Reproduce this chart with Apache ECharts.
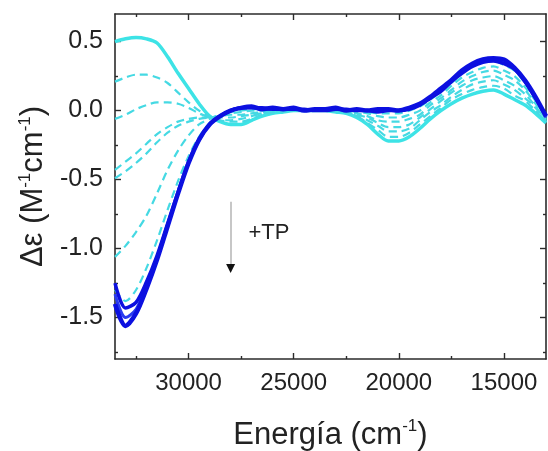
<!DOCTYPE html>
<html>
<head>
<meta charset="utf-8">
<script src="https://cdn.jsdelivr.net/npm/echarts@6/dist/echarts.min.js"></script>
<style>
html,body{margin:0;padding:0;background:#fff;}
#chart{width:548px;height:451px;}
</style>
</head>
<body>
<div id="chart"></div>
<script>
// Energy grid (cm^-1)
var energy = [33500,33000,32500,32000,31500,31000,30500,30000,29500,29000,28500,28000,27500,27000,26500,26000,25500,25000,24500,24000,23500,23000,22500,22000,21500,21000,20500,20000,19500,19000,18500,18000,17500,17000,16500,16000,15500,15000,14500,14000,13500,13000];

// Initial spectrum (cyan solid)
var spec0 = [0.50,0.52,0.53,0.52,0.49,0.39,0.27,0.16,0.05,-0.04,-0.08,-0.10,-0.10,-0.07,-0.04,-0.02,-0.01,0.00,0.00,0.00,0.00,-0.01,-0.02,-0.05,-0.10,-0.17,-0.22,-0.22,-0.19,-0.13,-0.06,0.00,0.05,0.09,0.12,0.14,0.15,0.12,0.08,0.04,-0.02,-0.09];
// Intermediate spectra (cyan dashed)
var dash1 = [0.21,0.24,0.26,0.26,0.24,0.20,0.13,0.06,0.00,-0.04,-0.07,-0.08,-0.08,-0.06,-0.03,-0.015,-0.01,0,0,0,0,-0.01,-0.02,-0.04,-0.09,-0.14,-0.19,-0.19,-0.16,-0.10,-0.04,0.02,0.08,0.12,0.15,0.17,0.18,0.16,0.11,0.07,0.00,-0.08];
var dash2 = [-0.06,-0.03,0.01,0.04,0.06,0.06,0.05,0.02,-0.02,-0.05,-0.07,-0.07,-0.06,-0.04,-0.02,-0.01,0,0,0,0,0,-0.01,-0.01,-0.04,-0.07,-0.11,-0.15,-0.15,-0.13,-0.07,-0.01,0.04,0.10,0.15,0.19,0.21,0.22,0.19,0.15,0.09,0.02,-0.08];
var dash3 = [-0.43,-0.37,-0.31,-0.24,-0.17,-0.12,-0.08,-0.06,-0.05,-0.05,-0.05,-0.05,-0.04,-0.03,-0.02,-0.01,0,0,0,0,0,0,-0.01,-0.03,-0.05,-0.09,-0.12,-0.12,-0.10,-0.05,0.01,0.07,0.13,0.18,0.22,0.24,0.25,0.22,0.18,0.12,0.03,-0.07];
var dash4 = [-0.49,-0.44,-0.38,-0.31,-0.23,-0.16,-0.11,-0.08,-0.06,-0.05,-0.04,-0.03,-0.03,-0.02,-0.01,0,0,0,0,0,0,0,-0.01,-0.02,-0.04,-0.07,-0.08,-0.08,-0.06,-0.03,0.04,0.09,0.15,0.21,0.25,0.28,0.29,0.26,0.22,0.15,0.05,-0.07];
var dash5 = [-1.06,-0.98,-0.88,-0.76,-0.60,-0.43,-0.29,-0.18,-0.10,-0.06,-0.03,-0.02,-0.01,0,0,0,0,0.01,0,0,0,0,0,-0.01,-0.02,-0.04,-0.05,-0.05,-0.03,0.00,0.06,0.11,0.18,0.24,0.28,0.31,0.32,0.29,0.25,0.17,0.07,-0.06];
var dash6 = [-1.30,-1.38,-1.30,-1.14,-0.94,-0.72,-0.51,-0.33,-0.19,-0.09,-0.04,-0.01,0.00,0.01,0.01,0.01,0.01,0.01,0,0,0,0.01,0,0,-0.01,-0.02,-0.02,-0.02,0.00,0.03,0.08,0.14,0.20,0.27,0.32,0.35,0.36,0.33,0.29,0.20,0.09,-0.05];
// Final spectra (blue solid)
var blueA = [-1.40,-1.56,-1.47,-1.29,-1.08,-0.84,-0.60,-0.38,-0.21,-0.10,-0.04,0.00,0.02,0.03,0.01,0.02,0.01,0.02,0.00,0.01,0.01,0.02,0.00,0.01,0.00,0.01,0.01,0.00,0.02,0.05,0.10,0.16,0.22,0.29,0.34,0.37,0.38,0.37,0.31,0.22,0.10,-0.04];
var blueB = [-1.25,-1.43,-1.39,-1.24,-1.05,-0.82,-0.59,-0.37,-0.21,-0.10,-0.04,0.00,0.02,0.02,0.02,0.01,0.01,0.01,0.01,0.00,0.00,0.01,0.01,0.00,0.00,-0.01,0.00,0.00,0.01,0.04,0.09,0.14,0.21,0.27,0.32,0.35,0.36,0.34,0.30,0.21,0.09,-0.04];
var blueC = [-1.33,-1.50,-1.44,-1.27,-1.07,-0.83,-0.60,-0.38,-0.21,-0.10,-0.04,0.00,0.02,0.02,0.01,0.01,0.01,0.01,0.00,0.00,0.01,0.01,0.00,0.00,0.00,0.00,0.00,0.00,0.02,0.05,0.09,0.15,0.21,0.28,0.33,0.36,0.37,0.35,0.30,0.21,0.09,-0.05];

// Tick values
var xMajor = [15000,20000,25000,30000];
var xMinor = [17500,22500,27500,32500];
var yMajor = [-1.5,-1.0,-0.5,0.0,0.5];
var yMinor = [-1.75,-1.25,-0.75,-0.25,0.25];

// Arrow annotation (data coords)
var arrowE = 28000, arrowTop = -0.66, arrowBottom = -1.12;
var labelTP = '+TP';

function pairs(v){ return energy.map(function(e,i){ return [e, v[i]]; }); }

var FONT = 'Liberation Sans';
var AXC = '#2b2b2b';
var CYAN = '#3de3e6';
var DASHC = '#45d9e3';
var BLUE = '#0c10e0';

function xAx(pos, ticks, len, showLine, showLabel){
  return {
    type:'value', position:pos, min:13000, max:33500, inverse:true,
    axisLine:{show:showLine, onZero:false, lineStyle:{color:AXC, width:1.6}},
    axisTick:{show:true, inside:true, length:len, customValues:ticks, lineStyle:{color:AXC, width:1.4}},
    axisLabel:{show:showLabel, customValues:ticks, fontFamily:FONT, fontSize:24, color:'#222', margin:12,
      formatter:function(v){ return String(Math.round(v)); }},
    splitLine:{show:false}
  };
}
function yAx(pos, ticks, len, showLine, showLabel){
  return {
    type:'value', position:pos, min:-1.8, max:0.7,
    axisLine:{show:showLine, onZero:false, lineStyle:{color:AXC, width:1.6}},
    axisTick:{show:true, inside:true, length:len, customValues:ticks, lineStyle:{color:AXC, width:1.4}},
    axisLabel:{show:showLabel, customValues:ticks, fontFamily:FONT, fontSize:25, color:'#222', margin:12,
      formatter:function(v){ return v.toFixed(1); }},
    splitLine:{show:false}
  };
}

var xs = [xAx('bottom', xMajor, 6, true, true), xAx('bottom', xMinor, 3, false, false), xAx('top', xMajor, 6, true, false), xAx('top', xMinor, 3, false, false)];
xs[0].name = '{a|Energía (cm}{s|-1}{a|)}';
xs[0].nameLocation = 'middle';
xs[0].nameGap = 59;
xs[0].nameTextStyle = {fontFamily:FONT, color:'#222', rich:{a:{fontFamily:FONT, fontSize:31, color:'#222', lineHeight:34}, s:{fontFamily:FONT, fontSize:17, color:'#222', lineHeight:34, verticalAlign:'top'}}};
var ys = [yAx('left', yMajor, 6, true, true), yAx('left', yMinor, 3, false, false), yAx('right', yMajor, 6, true, false), yAx('right', yMinor, 3, false, false)];
ys[0].name = '{a|Δε (M}{s|-1}{a|cm}{s|-1}{a|)}';
ys[0].nameLocation = 'middle';
ys[0].nameGap = 58;
ys[0].nameRotate = 90;
ys[0].nameTextStyle = {fontFamily:FONT, color:'#222', rich:{a:{fontFamily:FONT, fontSize:31, color:'#222', lineHeight:34}, s:{fontFamily:FONT, fontSize:17, color:'#222', lineHeight:34, verticalAlign:'top'}}};

function solid(v, color, w, z){ return {type:'line', data:pairs(v), showSymbol:false, smooth:0.3, lineStyle:{color:color, width:w}, z:z, silent:true}; }
function dashed(v){ return {type:'line', data:pairs(v), showSymbol:false, smooth:0.3, lineStyle:{color:DASHC, width:2.2, type:[8,5]}, z:3, silent:true}; }

var series = [
  solid(spec0, CYAN, 3.5, 2),
  dashed(dash1), dashed(dash2), dashed(dash3), dashed(dash4), dashed(dash5), dashed(dash6),
  solid(blueC, '#2a3cf0', 3, 4),
  solid(blueB, BLUE, 3.5, 5),
  solid(blueA, BLUE, 4.5, 5)
];
series.push({
  type:'line', data:[], silent:true,
  markLine:{silent:true, symbol:['none','none'], lineStyle:{color:'#b5b5b5', width:1.5, type:'solid'}, label:{show:false},
    data:[[{coord:[arrowE, arrowTop]},{coord:[arrowE, arrowBottom]}]]},
  markPoint:{silent:true, data:[
    {coord:[arrowE, arrowBottom - 0.025], symbol:'triangle', symbolSize:[9,9], symbolRotate:180, itemStyle:{color:'#111'}, label:{show:false}},
    {coord:[27150, -0.885], symbol:'rect', symbolSize:0, label:{show:true, formatter:labelTP, position:'right', distance:0, fontFamily:FONT, fontSize:22, color:'#222'}}
  ]}
});

var chart = echarts.init(document.getElementById('chart'), null, {renderer:'canvas'});
chart.setOption({
  animation:false,
  backgroundColor:'#fff',
  grid:{left:115, top:14, right:2, bottom:92, containLabel:false, outerBoundsMode:'none'},
  xAxis:xs, yAxis:ys, series:series
});
</script>
</body>
</html>
